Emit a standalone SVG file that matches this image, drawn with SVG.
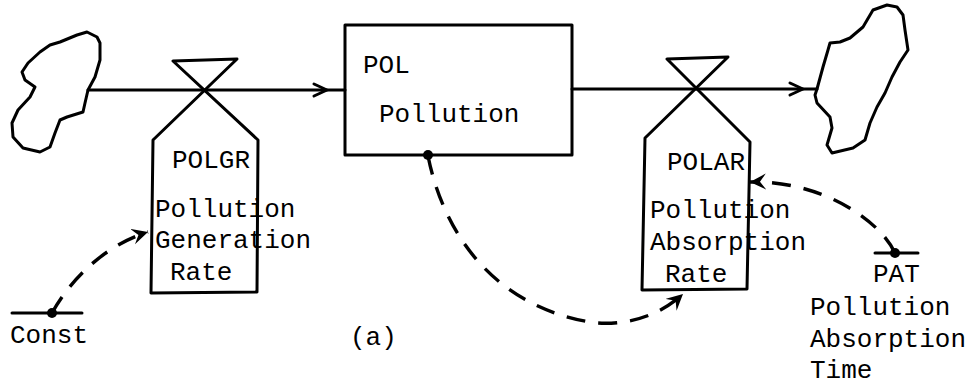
<svg xmlns="http://www.w3.org/2000/svg" width="975" height="386" viewBox="0 0 975 386">
<style>
.ln{fill:none;stroke:#000;stroke-width:3;stroke-linejoin:round;stroke-linecap:round}
.dash{fill:none;stroke:#000;stroke-width:3.4;stroke-dasharray:19 13;stroke-linecap:butt}
.t{font-family:"Liberation Mono","DejaVu Sans Mono",monospace;font-size:26px;fill:#000}
.dot{fill:#000}
</style>
<defs>
<marker id="ah" markerUnits="userSpaceOnUse" markerWidth="18" markerHeight="18" refX="16" refY="8" orient="auto">
<path d="M0,0 L16,8 L0,16 L6,8 Z" fill="#000"/>
</marker>
</defs>
<rect width="975" height="386" fill="#fff"/>

<g id="source-cloud">
<path class="ln" d="M88,90 L85,103 L83,112 L67,117 L60,120 L55,133 L50,147 L40,152 L23,148 L13,137 L12,123 L18,110 L30,97 L35,87 L25,80 L22,72 L28,63 L40,52 L50,45 L60,42 L77,35 L87,32 L97,37 L100,43 L100,60 L95,77 Z"/>
</g>

<g id="sink-cloud">
<path class="ln" d="M817,89 L823,67 L828,50 L830,43 L840,42 L850,38 L863,27 L873,10 L887,5 L897,7 L903,15 L905,30 L908,50 L900,62 L892,77 L885,93 L877,107 L870,123 L865,140 L853,148 L832,153 L827,145 L832,128 L830,117 L817,103 L815,95 Z"/>
</g>

<g id="connectors">
<path class="ln" d="M88,90 H345"/>
<path class="ln" d="M314,84 L327,90 L314,96"/>
<path class="ln" d="M572,89 H817"/>
<path class="ln" d="M790,83 L803,89 L790,95"/>
<path class="dash" d="M52,313 C70,280 105,245 148,232" marker-end="url(#ah)"/>
<path class="dash" d="M428,156 C445,240 500,310 597,323 C630,325 660,315 683,294" marker-end="url(#ah)"/>
<path class="dash" d="M895,253 C880,220 820,180 750,182" marker-end="url(#ah)"/>
</g>

<g id="POL">
<rect class="ln" x="345" y="25" width="227" height="130"/>
<text class="t" x="363" y="73">POL</text>
<text class="t" x="379" y="122">Pollution</text>
<circle class="dot" cx="428" cy="155" r="5"/>
</g>

<g id="POLGR">
<path class="ln" d="M258,140 L173,61 L237,59 L153,140 L151,293 L257,292 Z"/>
<text class="t" x="172" y="168">POLGR</text>
<text class="t" x="155" y="217">Pollution</text>
<text class="t" x="155" y="248">Generation</text>
<text class="t" x="170" y="280">Rate</text>
</g>

<g id="POLAR">
<path class="ln" d="M750,142 L667,59 L728,57 L645,138 L642,290 L747,289 Z"/>
<text class="t" x="667" y="170">POLAR</text>
<text class="t" x="650" y="218">Pollution</text>
<text class="t" x="650" y="250">Absorption</text>
<text class="t" x="665" y="282">Rate</text>
</g>

<g id="Const">
<path class="ln" d="M12,313 H82"/>
<circle class="dot" cx="52" cy="313" r="5"/>
<text class="t" x="10" y="343">Const</text>
</g>

<g id="PAT">
<path class="ln" d="M875,253 H918"/>
<circle class="dot" cx="895" cy="253" r="5"/>
<text class="t" x="873" y="282">PAT</text>
<text class="t" x="810" y="315">Pollution</text>
<text class="t" x="810" y="347">Absorption</text>
<text class="t" x="810" y="378">Time</text>
</g>

<g id="caption">
<text class="t" x="350" y="345">(a)</text>
</g>
</svg>
